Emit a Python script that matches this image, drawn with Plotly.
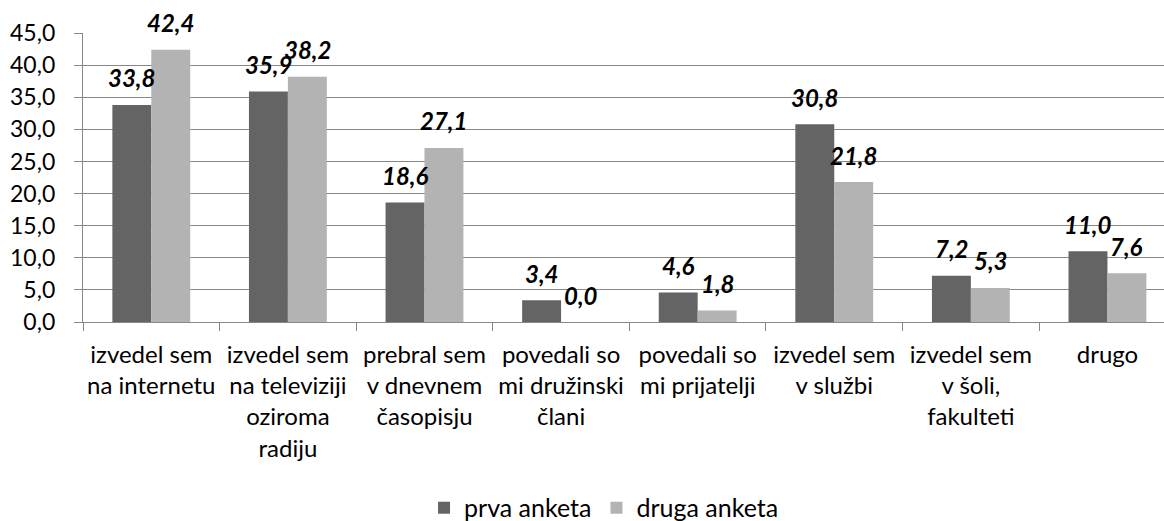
import plotly.graph_objects as go

categories = [
    "izvedel sem<br>na internetu",
    "izvedel sem<br>na televiziji<br>oziroma<br>radiju",
    "prebral sem<br>v dnevnem<br>časopisju",
    "povedali so<br>mi družinski<br>člani",
    "povedali so<br>mi prijatelji",
    "izvedel sem<br>v službi",
    "izvedel sem<br>v šoli,<br>fakulteti",
    "drugo",
]
prva_anketa = [33.8, 35.9, 18.6, 3.4, 4.6, 30.8, 7.2, 11.0]
druga_anketa = [42.4, 38.2, 27.1, 0.0, 1.8, 21.8, 5.3, 7.6]
series_names = ["prva anketa", "druga anketa"]
y_ticks = [0, 5, 10, 15, 20, 25, 30, 35, 40, 45]

FONT = "Lato"
DARK = "#646464"
LIGHT = "#b3b3b3"
AXIS = "#888888"

fig = go.Figure()
fig.add_trace(go.Bar(name=series_names[0], x=categories, y=prva_anketa,
                     marker=dict(color=DARK, line=dict(width=0))))
fig.add_trace(go.Bar(name=series_names[1], x=categories, y=druga_anketa,
                     marker=dict(color=LIGHT, line=dict(width=0))))

def fmt(v):
    return f"{v:.1f}".replace(".", ",")

annotations = []
for vals, shift in ((prva_anketa, -19.5), (druga_anketa, 19.5)):
    for c, v in zip(categories, vals):
        annotations.append(dict(
            x=c, y=v, xref="x", yref="y", text=fmt(v), showarrow=False,
            xshift=shift, yshift=27, xanchor="center", yanchor="middle",
            font=dict(family=FONT, size=24, color="black", weight="bold", style="italic"),
        ))

fig.update_layout(
    width=1164, height=521,
    margin=dict(l=83, r=0, t=33, b=199, pad=0),
    plot_bgcolor="white", paper_bgcolor="white",
    barmode="group", bargap=0.43, bargroupgap=0,
    separators=",.",
    font=dict(family=FONT, size=24, color="black"),
    showlegend=True,
    legend=dict(orientation="h", xref="paper", x=0.482, xanchor="center",
                yref="container", y=0.025, yanchor="middle",
                font=dict(family=FONT, size=25, color="black"),
                itemsizing="constant", traceorder="normal"),
    annotations=annotations,
)
fig.update_xaxes(
    type="category", range=[-0.5, 7.414], tickson="boundaries",
    ticks="outside", ticklen=8, tickcolor=AXIS, tickwidth=1.3,
    showline=True, linecolor=AXIS, linewidth=1.3, tickangle=0,
    showgrid=False, ticklabelstandoff=11, automargin=False,
    tickfont=dict(family=FONT, size=24, color="black"),
)
fig.update_yaxes(
    range=[0, 45], tickvals=y_ticks, tickformat=".1f",
    ticks="outside", ticklen=8, tickcolor=AXIS, tickwidth=1.3,
    showline=True, linecolor=AXIS, linewidth=1.3,
    showgrid=True, gridcolor=AXIS, gridwidth=1.3,
    zeroline=False, ticklabelstandoff=14, automargin=False,
    tickfont=dict(family=FONT, size=23, color="black"),
)

fig.write_html(
    "out.html",
    config={"displayModeBar": False},
    post_script="document.body.style.margin='0';document.body.style.overflow='hidden';",
)
